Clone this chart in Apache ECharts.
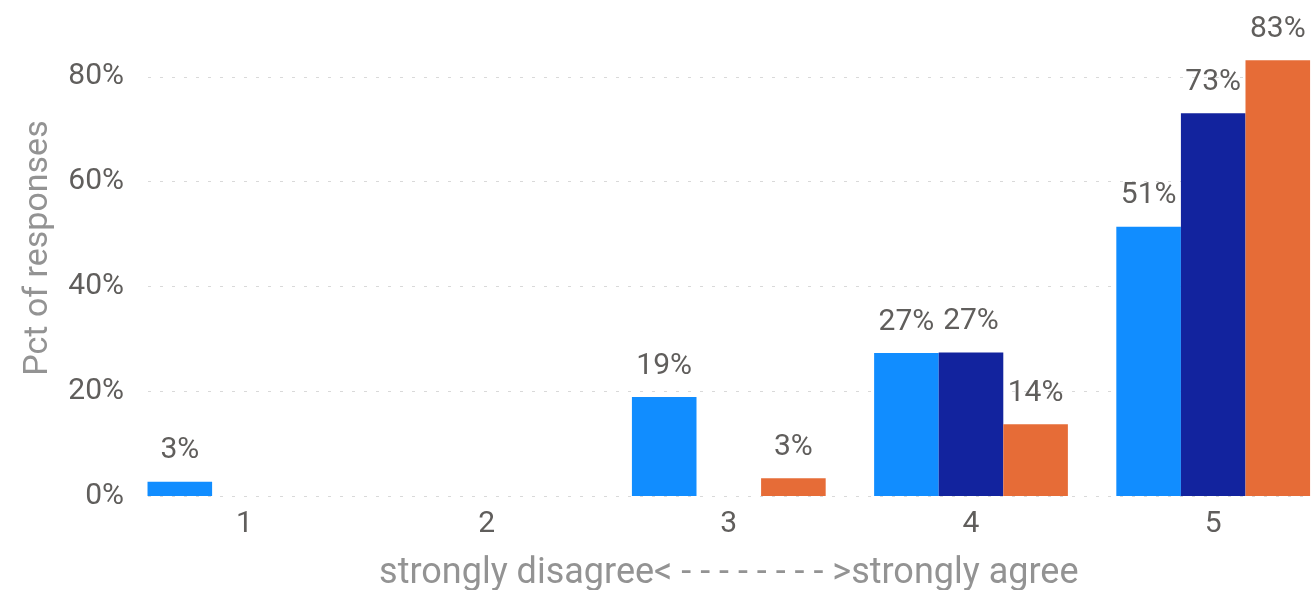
<!DOCTYPE html>
<html>
<head>
<meta charset="utf-8">
<script src="https://cdn.jsdelivr.net/npm/echarts@6/dist/echarts.min.js"></script>
<style>
html,body{margin:0;padding:0;background:#fff;}
#chart{width:1312px;height:590px;}
</style>
</head>
<body>
<div id="chart"></div>
<script>
const categories = ['1', '2', '3', '4', '5'];
const seriesA = [2.7, null, 18.9, 27.3, 51.4];
const seriesB = [null, null, null, 27.4, 73.1];
const seriesC = [null, null, 3.4, 13.7, 83.2];
const yTicks = [0, 20, 40, 60, 80];
const xTitle = 'strongly disagree< - - - - - - - - >strongly agree';
const yTitle = 'Pct of responses';

const FONT = 'Roboto';
const colors = ['#118DFF', '#12239E', '#E66C37'];
const yMax = 94.7;

const chart = echarts.init(document.getElementById('chart'), null, {renderer: 'canvas'});

function barSeries(name, data, color) {
  return {
    name: name,
    type: 'bar',
    xAxisIndex: 1,
    yAxisIndex: 1,
    data: data,
    barGap: '0%',
    barCategoryGap: '20%',
    itemStyle: {color: color},
    label: {
      show: true,
      position: 'top',
      distance: 16,
      color: '#605E5C',
      fontFamily: FONT,
      fontSize: 30,
      formatter: p => Math.round(p.value) + '%'
    },
    emphasis: {disabled: true},
    animation: false
  };
}

chart.setOption({
  animation: false,
  grid: [
    {left: 148, right: 2, top: 0, bottom: 94, outerBoundsMode: 'none', containLabel: false},
    {left: 123.3, width: 1211, top: 0, bottom: 94, outerBoundsMode: 'none', containLabel: false}
  ],
  xAxis: [
    {type: 'category', gridIndex: 0, data: categories, show: false},
    {
      type: 'category', gridIndex: 1, data: categories,
      axisLine: {show: false}, axisTick: {show: false},
      axisLabel: {color: '#605E5C', fontFamily: FONT, fontSize: 30, margin: 13},
      name: xTitle, nameLocation: 'middle', nameGap: 60,
      nameTextStyle: {color: '#939393', fontFamily: FONT, fontSize: 36}
    }
  ],
  yAxis: [
    {
      type: 'value', gridIndex: 0, min: 0, max: yMax, interval: 20,
      axisLine: {show: false}, axisTick: {show: false},
      axisLabel: {
        color: '#605E5C', fontFamily: FONT, fontSize: 30, margin: 24,
        showMaxLabel: false,
        formatter: v => (yTicks.indexOf(v) >= 0 ? v + '%' : '')
      },
      splitLine: {show: true, showMaxLine: false, lineStyle: {color: '#D9D9D9', type: [3, 9], width: 1}},
      name: yTitle, nameLocation: 'middle', nameGap: 93,
      nameTextStyle: {color: '#939393', fontFamily: FONT, fontSize: 34}
    },
    {type: 'value', gridIndex: 1, min: 0, max: yMax, show: false, splitLine: {show: false}}
  ],
  series: [
    barSeries('A', seriesA, colors[0]),
    barSeries('B', seriesB, colors[1]),
    barSeries('C', seriesC, colors[2])
  ]
});
</script>
</body>
</html>
